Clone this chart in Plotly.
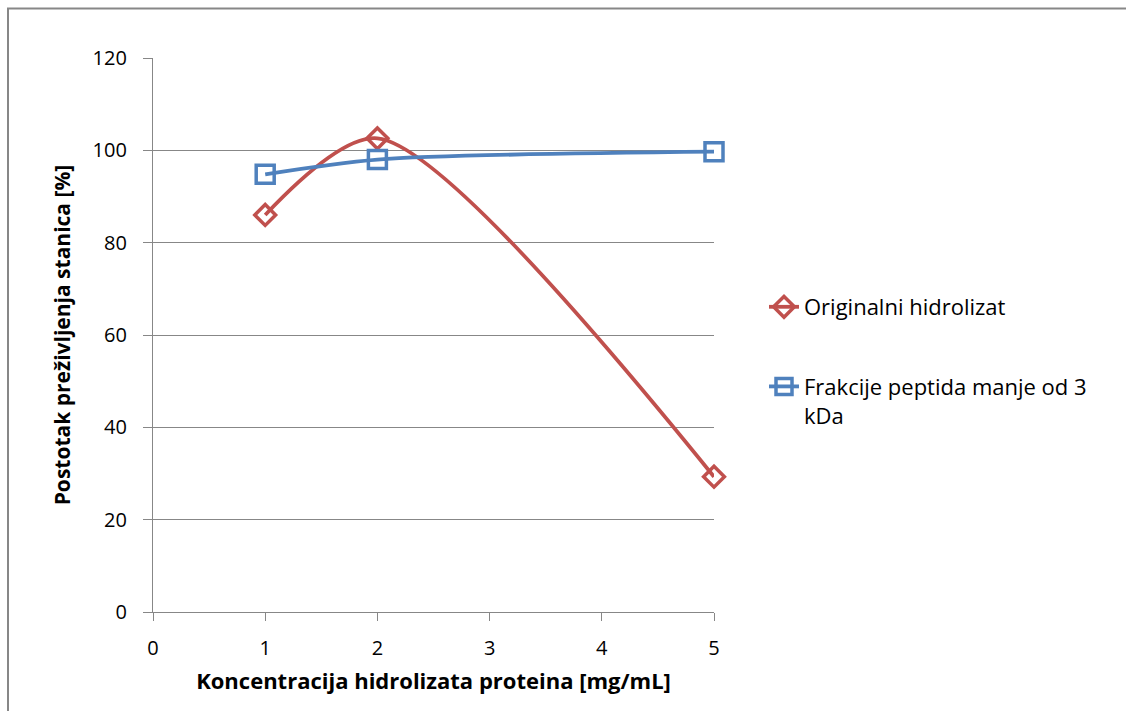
import plotly.graph_objects as go

x_vals = [1, 2, 5]
original = [86.0, 102.6, 29.3]
frakcije = [94.8, 98.0, 99.7]
series_names = ["Originalni hidrolizat", "Frakcije peptida manje od 3<br>kDa"]
y_ticks = [0, 20, 40, 60, 80, 100, 120]
x_ticks = [0, 1, 2, 3, 4, 5]

RED = "#C0504D"
BLUE = "#4F81BD"
GREY = "#878787"
FONT = "Open Sans"

fig = go.Figure()
fig.add_trace(go.Scatter(
    x=x_vals, y=original, name=series_names[0], legendgroup="a", cliponaxis=False,
    mode="lines+markers", line=dict(color=RED, width=3.8, shape="spline", smoothing=0.8),
    marker=dict(symbol="diamond-open", size=16, color=RED, line=dict(width=3.5, color=RED)),
))
fig.add_trace(go.Scatter(
    x=x_vals, y=frakcije, name=series_names[1], legendgroup="b", cliponaxis=False,
    mode="lines+markers", line=dict(color=BLUE, width=3.8, shape="spline", smoothing=0.8),
    marker=dict(symbol="square-open", size=18, color=BLUE, line=dict(width=3.5, color=BLUE)),
))

L, R, T, B = 153, 714, 58, 612
W, H = 1126, 711

def px_x(p):
    return (p - L) / (R - L)

def px_y(p):
    return (B - p) / (B - T)

fig.add_shape(type="rect", xref="paper", yref="paper",
              x0=px_x(8), x1=px_x(1160), y0=px_y(740), y1=px_y(8.5),
              line=dict(color=GREY, width=2), layer="below")

fig.update_layout(
    width=W, height=H,
    margin=dict(l=L, r=W - R, t=T, b=H - B, pad=0),
    paper_bgcolor="white", plot_bgcolor="white",
    font=dict(family=FONT, size=20, color="black"),
    showlegend=True,
    legend=dict(x=px_x(764), y=px_y(286), xanchor="left", yanchor="top",
                valign="top", tracegroupgap=48, traceorder="grouped",
                font=dict(family=FONT, size=22, color="black"),
                bgcolor="rgba(0,0,0,0)"),
    xaxis=dict(range=[0, 5], tickvals=x_ticks, showgrid=False, zeroline=False,
               showline=True, linecolor=GREY, linewidth=1.3,
               ticks="outside", ticklen=8, tickcolor=GREY, tickwidth=1.3,
               tickfont=dict(size=20), ticklabelstandoff=10,
               title=dict(text="<b>Koncentracija hidrolizata proteina [mg/mL]</b>",
                          font=dict(size=22), standoff=13)),
    yaxis=dict(range=[0, 120], tickvals=y_ticks, showgrid=True, gridcolor=GREY,
               gridwidth=1.3, zeroline=False,
               showline=True, linecolor=GREY, linewidth=1.3,
               ticks="outside", ticklen=9, tickcolor=GREY, tickwidth=1.3,
               tickfont=dict(size=20), ticklabelstandoff=12,
               title=dict(text="<b>Postotak preživljenja stanica [%]</b>",
                          font=dict(size=21), standoff=16)),
)

fig.write_html("out.html", config={"displayModeBar": False},
               post_script="document.body.style.margin='0';")
